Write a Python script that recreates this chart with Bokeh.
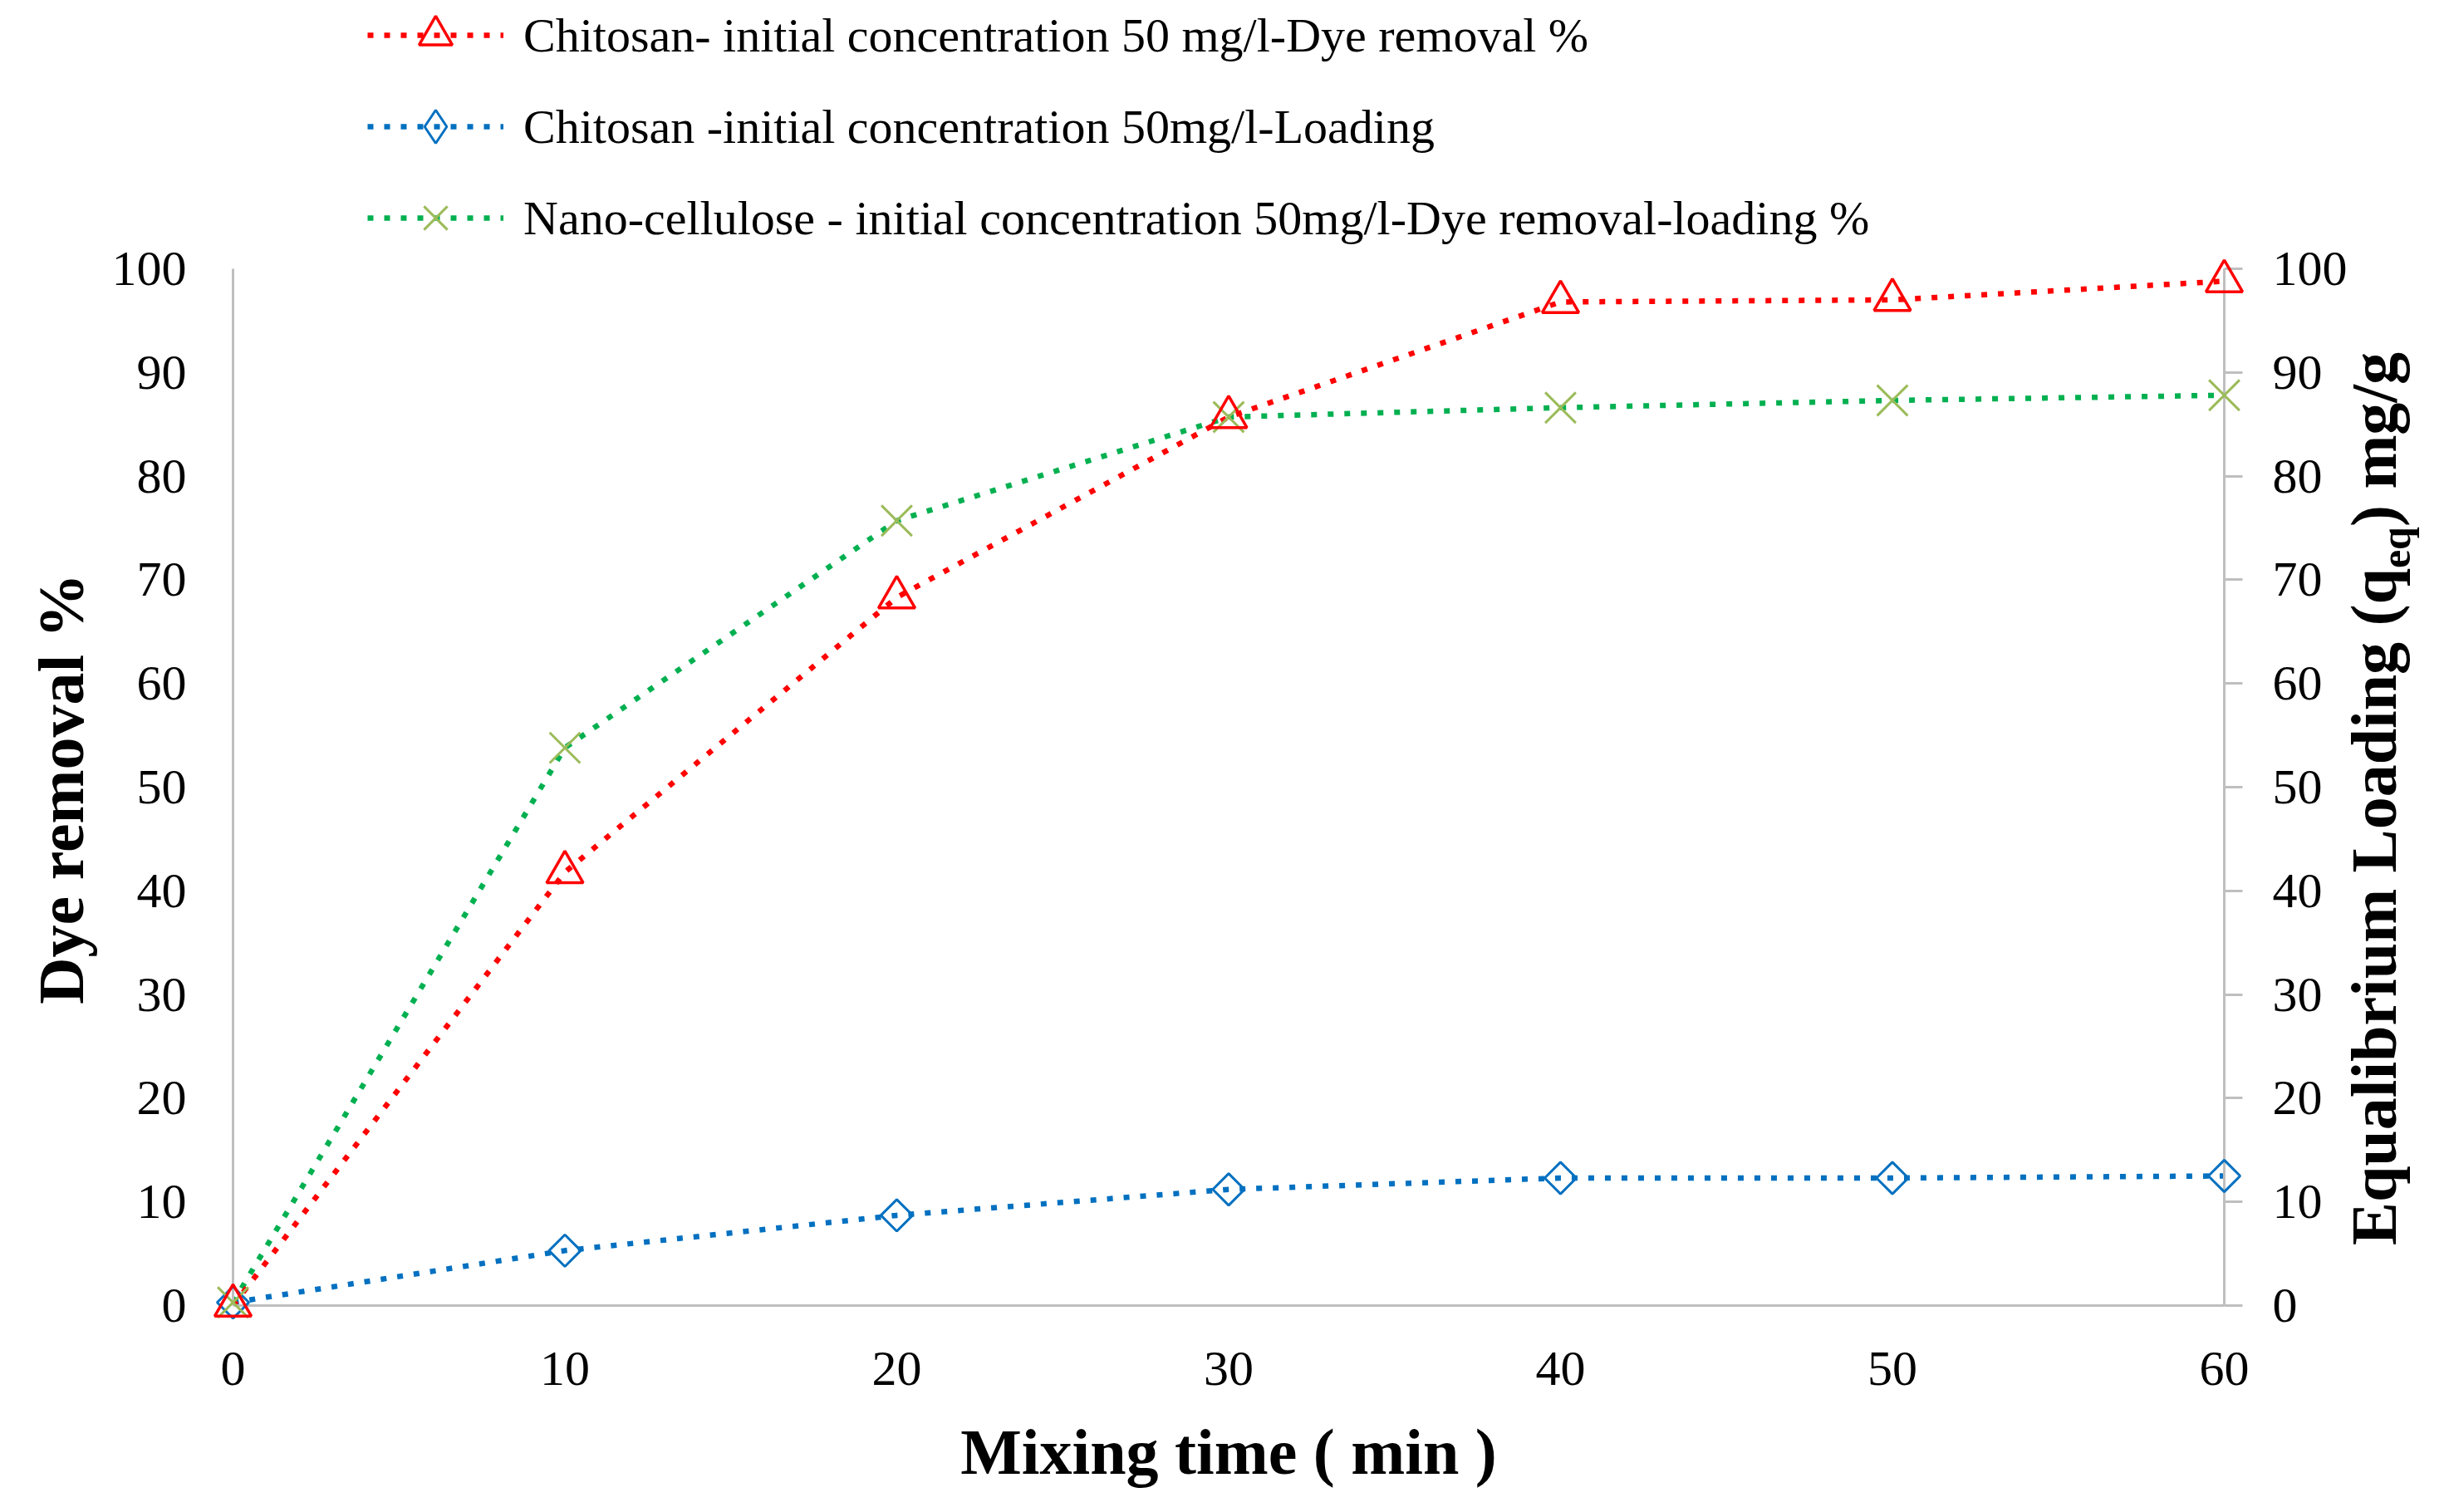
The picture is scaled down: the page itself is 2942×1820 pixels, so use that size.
import math
from bokeh.plotting import figure
from bokeh.models import Range1d, LinearAxis, Legend, LegendItem, FixedTicker
from bokeh.core.properties import value
from bokeh.embed import file_html
from bokeh.resources import INLINE

# ---------------- data ----------------
time_min = [0, 10, 20, 30, 40, 50, 60]
chitosan_removal = [0, 41.8, 68.3, 85.7, 96.8, 97.0, 98.8]
chitosan_loading = [0.3, 5.3, 8.7, 11.2, 12.3, 12.3, 12.5]
nanocellulose_removal = [0.3, 53.8, 75.7, 85.7, 86.6, 87.3, 87.8]

x_ticks = [0, 10, 20, 30, 40, 50, 60]
y_ticks = [0, 10, 20, 30, 40, 50, 60, 70, 80, 90, 100]

label_red = "Chitosan- initial concentration 50 mg/l-Dye removal %"
label_blue = "Chitosan -initial concentration 50mg/l-Loading"
label_green = "Nano-cellulose - initial concentration 50mg/l-Dye removal-loading %"

x_title = "Mixing time ( min )"
y_title = "Dye removal %"
y2_title_main = "Equalibrium Loading (q"
y2_title_sub = "eq"
y2_title_end = ") mg/g"

# ---------------- layout / styling ----------------
FONT = "Liberation Serif"
AXIS_GRAY = "#BFBFBF"
RED = "#FF0000"
BLUE = "#0070C0"
GREEN = "#00B050"
XGREEN = "#9BBB59"
DASH = "7 13"
LW = 6.5

W, H = 2926, 1804
B_LEFT, B_RIGHT, B_BOTTOM = 280, 249, 233
PLOT_TOP_PX = 323            # pixel row of the value 100
plot_h = H - B_BOTTOM - PLOT_TOP_PX
Y_LO, Y_HI = 0, 100
X_LO, X_HI = 0, 60
# the frame reaches the top of the canvas so the legend above the plot is drawn inside it
y_top = Y_HI + (Y_HI - Y_LO) * PLOT_TOP_PX / plot_h
y_mid = (Y_LO + Y_HI) / 2

p = figure(width=W, height=H,
           x_range=Range1d(X_LO, X_HI), y_range=Range1d(Y_LO, y_top),
           output_backend="svg", toolbar_location=None,
           min_border_left=B_LEFT, min_border_right=B_RIGHT,
           min_border_top=0, min_border_bottom=B_BOTTOM)
p.extra_y_ranges = {"loading": Range1d(Y_LO, y_top)}
p.xgrid.visible = False
p.ygrid.visible = False
p.outline_line_color = None
p.background_fill_color = "white"
p.border_fill_color = "white"

xa = p.xaxis[0]
ya = p.yaxis[0]
xa.ticker = FixedTicker(ticks=x_ticks)
ya.ticker = FixedTicker(ticks=y_ticks)
ya.bounds = (Y_LO, Y_HI)
for ax in (xa, ya):
    ax.axis_line_color = AXIS_GRAY
    ax.axis_line_width = 3
    ax.major_tick_out = 0
    ax.major_tick_in = 0
    ax.major_tick_line_color = None
    ax.minor_tick_line_color = None
    ax.major_label_text_font = FONT
    ax.major_label_text_font_size = "60px"
    ax.major_label_text_color = "black"
    ax.axis_label_text_font = FONT
    ax.axis_label_text_font_size = "78px"
    ax.axis_label_text_font_style = "bold"
    ax.axis_label_text_color = "black"

xa.axis_label = x_title
xa.major_label_standoff = 56
xa.axis_label_standoff = 34
ya.major_label_standoff = 56

ra = LinearAxis(y_range_name="loading", ticker=FixedTicker(ticks=y_ticks),
                bounds=(Y_LO, Y_HI))
ra.axis_line_color = AXIS_GRAY
ra.axis_line_width = 3
ra.major_tick_out = 22
ra.major_tick_in = 0
ra.major_tick_line_color = AXIS_GRAY
ra.major_tick_line_width = 3
ra.minor_tick_line_color = None
ra.major_label_standoff = 36
ra.major_label_text_font = FONT
ra.major_label_text_font_size = "60px"
ra.major_label_text_color = "black"
p.add_layout(ra, "right")

# ---------------- series ----------------
b_line = p.line(time_min, chitosan_loading, y_range_name="loading",
                line_color=BLUE, line_width=LW, line_dash=DASH)
b_pts = p.scatter(time_min, chitosan_loading, y_range_name="loading",
                  marker="square", angle=math.pi / 4, size=27,
                  line_color=BLUE, line_width=3, fill_color=None, level="overlay")
# legend proxy (the legend ignores marker rotation): a diamond that is not drawn in the plot
b_key = p.scatter([float("nan")], [float("nan")], marker="diamond", size=27,
                  line_color=BLUE, line_width=3, fill_color=None)

g_line = p.line(time_min, nanocellulose_removal,
                line_color=GREEN, line_width=LW, line_dash=DASH)
g_pts = p.scatter(time_min, nanocellulose_removal, marker="x", size=52,
                  line_color=XGREEN, line_width=3, level="overlay")

r_line = p.line(time_min, chitosan_removal,
                line_color=RED, line_width=LW, line_dash=DASH)
r_pts = p.scatter(time_min, chitosan_removal, marker="triangle", size=44,
                  line_color=RED, line_width=3.5, fill_color=None, level="overlay")

# axis titles drawn as text (left one centred on 0-100, right one with a subscript)
F, f = 78, 50
tcommon = dict(angle=math.pi / 2, text_font=value(FONT), text_font_style="bold",
               text_baseline="middle", text_color="black", level="overlay")
p.text(x=[X_LO], y=[y_mid], text=[y_title], x_offset=-207, y_offset=2,
       text_align="center", text_font_size=f"{F}px", **tcommon)

w_main = 10.448 * F
w_sub = 1.0 * f
w_end = 2.694 * F
L = w_main + w_sub + w_end
start = 14 + L / 2          # screen offset (down positive) of the title's lower end
p.text(x=[X_HI], y=[y_mid], text=[y2_title_main], x_offset=180, y_offset=start,
       y_range_name="loading", text_align="left", text_font_size=f"{F}px", **tcommon)
p.text(x=[X_HI], y=[y_mid], text=[y2_title_sub], x_offset=206, y_offset=start - w_main,
       y_range_name="loading", text_align="left", text_font_size=f"{f}px", **tcommon)
p.text(x=[X_HI], y=[y_mid], text=[y2_title_end], x_offset=180,
       y_offset=start - w_main - w_sub,
       y_range_name="loading", text_align="left", text_font_size=f"{F}px", **tcommon)

GH = 100
ROW_PITCH = 110
LAST_ROW_ABOVE = 61          # px between the last legend row's centre and the 100 line
legend = Legend(items=[
    LegendItem(label=label_red, renderers=[r_line, r_pts]),
    LegendItem(label=label_blue, renderers=[b_line, b_key]),
    LegendItem(label=label_green, renderers=[g_line, g_pts]),
],
    location=(162, plot_h + LAST_ROW_ABOVE - GH // 2), orientation="vertical",
    glyph_width=164, glyph_height=GH, label_height=GH,
    spacing=ROW_PITCH - GH, padding=0, margin=0, label_standoff=24,
    border_line_color=None, background_fill_alpha=0,
    label_text_font=FONT, label_text_font_size="58px",
    label_text_color="black", label_text_baseline="middle")
p.add_layout(legend)

open("out.html", "w").write(file_html(p, INLINE))
